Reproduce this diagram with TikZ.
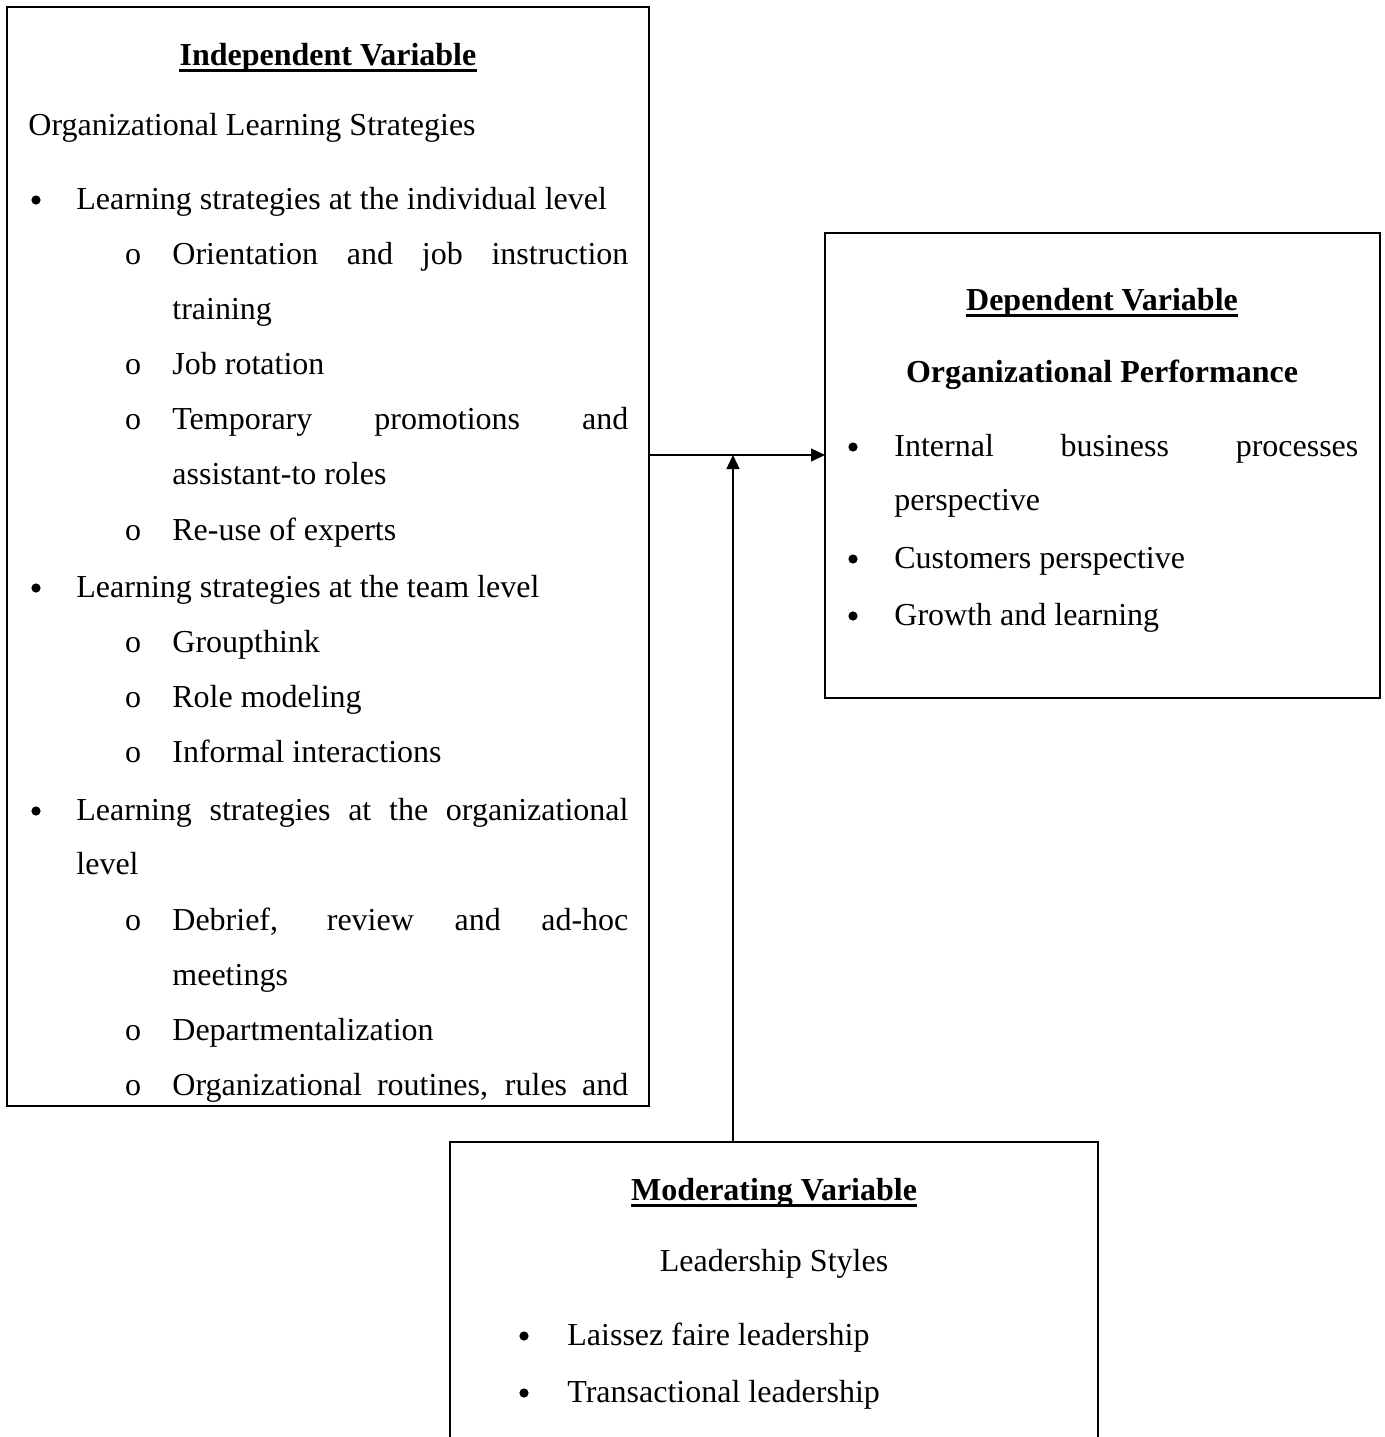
\documentclass[tikz,border=0pt]{standalone}
\usepackage{fontspec}
\setmainfont{Liberation Serif}
\usetikzlibrary{arrows.meta}
\tikzset{
  box/.style={draw, line width=1.2pt, anchor=north west, inner sep=0pt, outer sep=0pt},
  txt/.style={anchor=base west, inner sep=0pt, font=\fontsize{16}{19}\selectfont},
  ctxt/.style={anchor=base, inner sep=0pt, font=\fontsize{16}{19}\selectfont},
  ttl/.style={anchor=base, inner sep=0pt, font=\fontsize{16}{19}\selectfont\bfseries},
  dot/.style={circle, fill, inner sep=0pt, minimum size=4.6pt},
  uline/.style={line width=1.3pt},
  arr/.style={line width=0.7pt, -{Triangle[length=7pt,width=6.5pt]}}
}
\begin{document}
\begin{tikzpicture}[x=0.5pt,y=-0.5pt]
\useasboundingbox (0,0) rectangle (1385,1437);
% boxes
\node[box, minimum width=321pt, minimum height=549.5pt] (iv) at (7,7) {};
\node[box, minimum width=277.5pt, minimum height=232.5pt] (dv) at (825,233) {};
\node[box, minimum width=324pt, minimum height=200pt] (mv) at (450,1142) {};
% independent variable text (clipped by its box)
\begin{scope}
\clip (7,7) rectangle (649,1106);
\node[ttl] (ivt) at (328,65) {Independent Variable};
\draw[uline] ([yshift=-2.6pt]ivt.base west) -- ([yshift=-2.6pt]ivt.base east);
\node[txt] (ivs) at (28,135) {Organizational Learning Strategies};
\node[dot] (b1) at (36,200) {};
\node[txt] (l1) at (76,209) {Learning strategies at the individual level};
\node[ctxt] (o1) at (133,264) {o};
\node[txt] (l2) at (172,264) {\makebox[228pt][s]{Orientation and job instruction}};
\node[txt] (l3) at (172,319) {training};
\node[ctxt] (o2) at (133,374) {o};
\node[txt] (l4) at (172,374) {Job rotation};
\node[ctxt] (o3) at (133,429) {o};
\node[txt] (l5) at (172,429) {\makebox[228pt][s]{Temporary promotions and}};
\node[txt] (l6) at (172,484) {assistant-to roles};
\node[ctxt] (o4) at (133,540) {o};
\node[txt] (l7) at (172,540) {Re-use of experts};
\node[dot] (b2) at (36,588) {};
\node[txt] (l8) at (76,597) {Learning strategies at the team level};
\node[ctxt] (o5) at (133,652) {o};
\node[txt] (l9) at (172,652) {Groupthink};
\node[ctxt] (o6) at (133,707) {o};
\node[txt] (l10) at (172,707) {Role modeling};
\node[ctxt] (o7) at (133,762) {o};
\node[txt] (l11) at (172,762) {Informal interactions};
\node[dot] (b3) at (36,811) {};
\node[txt] (l12) at (76,820) {\makebox[276pt][s]{Learning strategies at the organizational}};
\node[txt] (l13) at (76,874) {level};
\node[ctxt] (o8) at (133,930) {o};
\node[txt] (l14) at (172,930) {\makebox[228pt][s]{Debrief, review and ad-hoc}};
\node[txt] (l15) at (172,985) {meetings};
\node[ctxt] (o9) at (133,1040) {o};
\node[txt] (l16) at (172,1040) {Departmentalization};
\node[ctxt] (o10) at (133,1095) {o};
\node[txt] (l17) at (172,1095) {\makebox[228pt][s]{Organizational routines, rules and}};
\end{scope}
% dependent variable text
\node[ttl] (dvt) at (1102,310) {Dependent Variable};
\draw[uline] ([yshift=-2.6pt]dvt.base west) -- ([yshift=-2.6pt]dvt.base east);
\node[ttl] (dvs) at (1102,382) {Organizational Performance};
\node[dot] (db1) at (853,447) {};
\node[txt] (d1) at (894,456) {\makebox[232pt][s]{Internal business processes}};
\node[txt] (d2) at (894,510) {perspective};
\node[dot] (db2) at (853,559) {};
\node[txt] (d3) at (894,568) {Customers perspective};
\node[dot] (db3) at (853,616) {};
\node[txt] (d4) at (894,625) {Growth and learning};
% moderating variable text
\node[ttl] (mvt) at (774,1200) {Moderating Variable};
\draw[uline] ([yshift=-2.6pt]mvt.base west) -- ([yshift=-2.6pt]mvt.base east);
\node[ctxt] (mvs) at (774,1271) {Leadership Styles};
\node[dot] (mb1) at (524,1336) {};
\node[txt] (m1) at (567,1345) {Laissez faire leadership};
\node[dot] (mb2) at (524,1393) {};
\node[txt] (m2) at (567,1402) {Transactional leadership};
% connectors
\coordinate (j) at (733,455);
\draw[arr] (iv.east |- j) -- (dv.west |- j);
\draw[arr] (mv.north -| j) -- (j);
\end{tikzpicture}
\end{document}
